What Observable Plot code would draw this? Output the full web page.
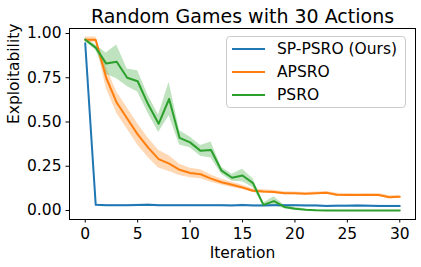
<!DOCTYPE html>
<html>
<head>
<meta charset="utf-8">
<script src="https://cdn.jsdelivr.net/npm/d3@7"></script>
<script src="https://cdn.jsdelivr.net/npm/@observablehq/plot@0.6"></script>
<style>
  html, body { margin: 0; padding: 0; background: white; }
  #wrap { position: relative; width: 421px; height: 267px; font-family: "DejaVu Sans", sans-serif; }
  #legend { position: absolute; left: 226px; top: 36px; width: 180px; height: 72px;
    border: 1px solid #cccccc; border-radius: 4px; background: rgba(255,255,255,0.8); box-sizing: border-box; }
  .row { position: absolute; left: 0; height: 20px; width: 100%; }
  .sw { position: absolute; left: 5px; width: 33px; height: 2px; top: 9px; }
  .lab { position: absolute; left: 50px; top: 0; font-size: 15.5px; line-height: 20px; color: black; white-space: nowrap; }
</style>
</head>
<body>
<div id="wrap"></div>
<script>
const iterations = [0,1,2,3,4,5,6,7,8,9,10,11,12,13,14,15,16,17,18,19,20,21,22,23,24,25,26,27,28,29,30];
const seriesNames = ["SP-PSRO (Ours)", "APSRO", "PSRO"];
const seriesColors = ["#1f77b4", "#ff7f0e", "#2ca02c"];

const spMean = [0.945,0.032,0.030,0.030,0.030,0.031,0.033,0.030,0.029,0.030,0.030,0.029,0.030,0.030,0.028,0.031,0.028,0.028,0.030,0.030,0.029,0.028,0.028,0.026,0.027,0.027,0.028,0.027,0.026,0.026,0.026];
const spErr  = [0.004,0.004,0.004,0.004,0.004,0.004,0.004,0.004,0.004,0.004,0.004,0.004,0.004,0.004,0.004,0.004,0.004,0.004,0.004,0.004,0.004,0.004,0.004,0.004,0.004,0.004,0.004,0.004,0.004,0.004,0.004];

const apsroMean = [0.965,0.965,0.75,0.61,0.52,0.43,0.355,0.29,0.265,0.23,0.212,0.205,0.18,0.16,0.145,0.13,0.112,0.107,0.105,0.098,0.097,0.094,0.097,0.100,0.089,0.088,0.087,0.088,0.088,0.075,0.078];
const apsroErr  = [0.015,0.015,0.06,0.06,0.06,0.06,0.055,0.05,0.045,0.032,0.027,0.025,0.02,0.016,0.015,0.012,0.01,0.01,0.01,0.008,0.008,0.008,0.008,0.008,0.008,0.008,0.008,0.008,0.008,0.008,0.008];

const psroMean = [0.965,0.92,0.83,0.84,0.75,0.73,0.60,0.49,0.63,0.41,0.385,0.337,0.342,0.225,0.185,0.198,0.155,0.032,0.053,0.02,0.01,0.004,0.001,0,0,0,0,0,0,0,0];
const psroErr  = [0.01,0.015,0.06,0.095,0.05,0.06,0.05,0.05,0.095,0.04,0.03,0.03,0.045,0.02,0.02,0.035,0.025,0.01,0.025,0.01,0.008,0.004,0.002,0.001,0,0,0,0,0,0,0];

const xTicks = [0,5,10,15,20,25,30];
const yTicks = [0,0.25,0.5,0.75,1.0];
const titleText = "Random Games with 30 Actions";
const xLabel = "Iteration";
const yLabel = "Exploitability";

const means = [spMean, apsroMean, psroMean];
const errs = [spErr, apsroErr, psroErr];
const data = [];
seriesNames.forEach((name, s) => {
  iterations.forEach((it, i) => {
    data.push({series: name, x: it, y: means[s][i], lo: means[s][i] - errs[s][i], hi: means[s][i] + errs[s][i]});
  });
});

const colorScale = {domain: seriesNames, range: seriesColors};

const chart = Plot.plot({
  width: 421, height: 267,
  marginTop: 28, marginBottom: 48, marginLeft: 69, marginRight: 6,
  style: "background:white;font-family:'DejaVu Sans',sans-serif;font-size:15.5px;color:black;",
  x: {domain: [-1.5, 31.5]},
  y: {domain: [-0.0508, 1.0282]},
  color: colorScale,
  marks: [
    Plot.areaY(data, {x: "x", y1: "lo", y2: "hi", z: "series", fill: "series", fillOpacity: 0.3}),
    Plot.line(data, {x: "x", y: "y", z: "series", stroke: "series", strokeWidth: 2}),
    Plot.frame({stroke: "black", strokeWidth: 1}),
    Plot.axisX({ticks: xTicks, tickSize: 3.5, tickPadding: 5, label: null, tickFormat: d3.format("d")}),
    Plot.axisY({ticks: yTicks, tickSize: 3.5, tickPadding: 4.5, label: null, tickFormat: d3.format(".2f")}),
    Plot.text([titleText], {frameAnchor: "top", dy: -6, lineAnchor: "bottom", fontSize: 19, text: d => d}),
    Plot.text([xLabel], {frameAnchor: "bottom", dy: 38, lineAnchor: "bottom", text: d => d}),
    Plot.text([yLabel], {frameAnchor: "left", dx: -55, rotate: -90, text: d => d})
  ]
});

const wrap = document.getElementById("wrap");
wrap.appendChild(chart);

const legend = document.createElement("div");
legend.id = "legend";
seriesNames.forEach((name, i) => {
  const row = document.createElement("div");
  row.className = "row";
  row.style.top = (2 + i * 23) + "px";
  const sw = document.createElement("div");
  sw.className = "sw";
  sw.style.background = seriesColors[i];
  const lab = document.createElement("div");
  lab.className = "lab";
  lab.textContent = name;
  row.appendChild(sw);
  row.appendChild(lab);
  legend.appendChild(row);
});
wrap.appendChild(legend);
</script>
</body>
</html>
